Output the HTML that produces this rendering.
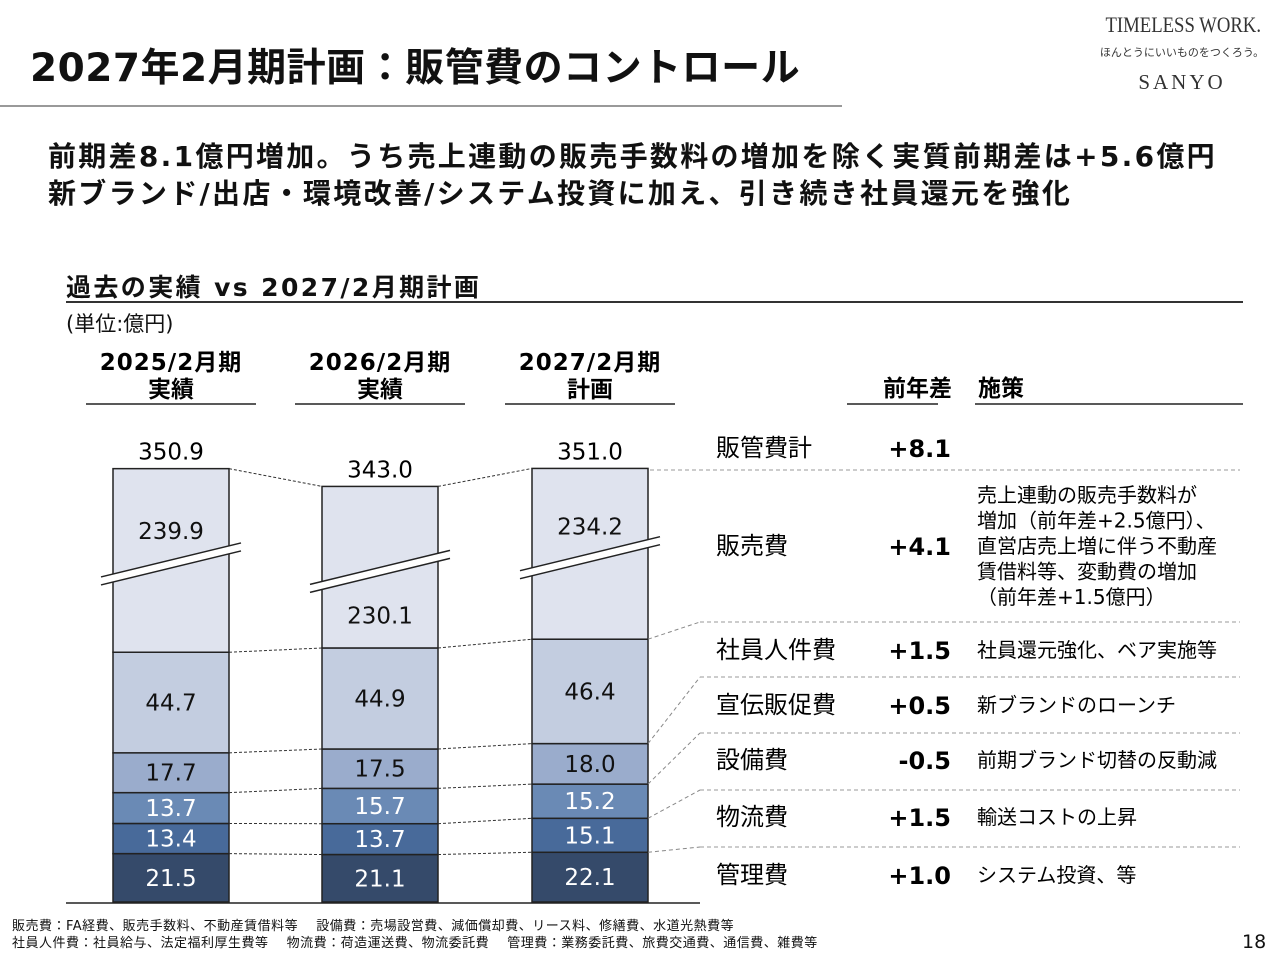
<!DOCTYPE html>
<html><head><meta charset="utf-8">
<style>
body{margin:0;width:1280px;height:960px;background:#fff;overflow:hidden;font-family:"DejaVu Sans","Noto Sans CJK JP",sans-serif;color:#111;position:relative}
.a{position:absolute;white-space:nowrap}
svg text{font-family:"DejaVu Sans","Noto Sans CJK JP",sans-serif}
</style></head><body>
<div class="a" style="left:30px;top:37px;font-size:39px;font-weight:bold;letter-spacing:0.5px">2027年2月期計画：販管費のコントロール</div>
<div class="a" style="left:0;top:105px;width:842px;height:2px;background:#999"></div>
<div class="a" style="left:1092px;top:12px;width:180px;text-align:center;font-family:'Liberation Serif',serif;color:#333">
 <div style="font-size:22px;transform:scaleX(0.85);letter-spacing:0px">TIMELESS WORK.</div>
 <div style="font-size:11px;font-family:'Noto Sans CJK JP',sans-serif;margin-top:6px">ほんとうにいいものをつくろう。</div>
 <div style="font-size:21px;letter-spacing:3px;margin-top:10px">SANYO</div>
</div>
<div class="a" style="left:48px;top:135px;font-size:28px;font-weight:bold;letter-spacing:2.3px">前期差8.1億円増加。うち売上連動の販売手数料の増加を除く実質前期差は+5.6億円</div>
<div class="a" style="left:48px;top:172px;font-size:28px;font-weight:bold;letter-spacing:2.3px">新ブランド/出店・環境改善/システム投資に加え、引き続き社員還元を強化</div>
<div class="a" style="left:66px;top:268px;font-size:25px;font-weight:bold;letter-spacing:2.4px">過去の実績 vs 2027/2月期計画</div>
<div class="a" style="left:66px;top:301px;width:1177px;height:1.5px;background:#333"></div>
<div class="a" style="left:66px;top:308px;font-size:21px">(単位:億円)</div>

<svg class="a" style="left:0;top:0" width="1280" height="960">
<g id="heads"></g><g id="bars"></g><g id="conn"></g><g id="table"></g>
<line x1="66" y1="903" x2="700" y2="903" stroke="#222" stroke-width="1.5"/>
</svg>

<div class="a" style="left:12px;top:915px;font-size:13px;letter-spacing:0.5px">販売費：FA経費、販売手数料、不動産賃借料等　 設備費：売場設営費、減価償却費、リース料、修繕費、水道光熱費等</div>
<div class="a" style="left:12px;top:932px;font-size:13px;letter-spacing:0.5px">社員人件費：社員給与、法定福利厚生費等　 物流費：荷造運送費、物流委託費　 管理費：業務委託費、旅費交通費、通信費、雑費等</div>
<div class="a" style="left:1242px;top:931px;font-size:19px">18</div>

<script>
const periods=["2025/2月期","2026/2月期","2027/2月期"];
const periodTypes=["実績","実績","計画"];
const totals=["350.9","343.0","351.0"];
const kanri=[21.5,21.1,22.1];
const butsuryu=[13.4,13.7,15.1];
const setsubi=[13.7,15.7,15.2];
const senden=[17.7,17.5,18.0];
const jinken=[44.7,44.9,46.4];
const hanbai=[239.9,230.1,234.2];
const rowLabels=["販管費計","販売費","社員人件費","宣伝販促費","設備費","物流費","管理費"];
const rowDiffs=["+8.1","+4.1","+1.5","+0.5","-0.5","+1.5","+1.0"];
const rowNotes=[[],["売上連動の販売手数料が","増加（前年差+2.5億円）、","直営店売上増に伴う不動産","賃借料等、変動費の増加","（前年差+1.5億円）"],["社員還元強化、ベア実施等"],["新ブランドのローンチ"],["前期ブランド切替の反動減"],["輸送コストの上昇"],["システム投資、等"]];

const NS="http://www.w3.org/2000/svg";
function mk(p,t,a){const e=document.createElementNS(NS,t);for(const k in a)e.setAttribute(k,a[k]);p.appendChild(e);return e;}
const base=902,k=2.25,breakOff=158.3,bw=116;
const xs=[113,322,532];
const y=v=>v*k;
const series=[kanri,butsuryu,setsubi,senden,jinken,hanbai];
const names=["kanri","butsuryu","setsubi","senden","jinken","hanbai"];
const fills=["#354a6a","#486a9a","#6a8ab5","#9aaccc","#c3cde0","#dfe3ee"];
const tcol=["#fff","#fff","#fff","#111","#111","#111"];
const bars=document.getElementById('bars'),heads=document.getElementById('heads'),conn=document.getElementById('conn'),tbl=document.getElementById('table');
const bounds=[];
periods.forEach((p,i)=>{
  const cx=xs[i]+bw/2;
  let t=mk(heads,'text',{x:cx,y:370,'text-anchor':'middle','font-size':23,'font-weight':'bold','letter-spacing':1});t.textContent=p;
  
  t=mk(heads,'text',{x:cx,y:397,'text-anchor':'middle','font-size':23,'font-weight':'bold'});t.textContent=periodTypes[i];
  
  const l=mk(heads,'line',{x1:cx-85,x2:cx+85,y1:404,y2:404,stroke:'#222','stroke-width':1.5});
  
  let cur=base;const b=[base];
  series.forEach((s,j)=>{
    const h=j==5?y(s[i]-breakOff):y(s[i]);
    const top=cur-h;
    const r=mk(bars,'rect',{x:xs[i],y:top,width:bw,height:h,fill:fills[j],stroke:'#222','stroke-width':1.5});
    
    const ty=j==5?(i==1?top+h*0.8:top+h*0.34):top+h/2;
    const tx=mk(bars,'text',{x:cx,y:ty+8,'text-anchor':'middle','font-size':23,fill:tcol[j]});tx.textContent=s[i].toFixed(1);
    
    cur=top;b.push(top);
  });
  bounds.push(b);
  const top=b[6],bot=b[5];const by=top+(bot-top)*0.47;
  const g=mk(bars,'g',{});
  mk(g,'polygon',{points:`${xs[i]-12},${by+22} ${xs[i]+bw+12},${by-12} ${xs[i]+bw+12},${by-4} ${xs[i]-12},${by+30}`,fill:'#fff'});
  mk(g,'line',{x1:xs[i]-12,y1:by+22,x2:xs[i]+bw+12,y2:by-12,stroke:'#222','stroke-width':1.5});
  mk(g,'line',{x1:xs[i]-12,y1:by+30,x2:xs[i]+bw+12,y2:by-4,stroke:'#222','stroke-width':1.5});
  const tt=mk(bars,'text',{x:cx,y:top-9,'text-anchor':'middle','font-size':23});tt.textContent=totals[i];
  
});
for(let i=0;i<2;i++)for(let j=1;j<=6;j++){
  const l=mk(conn,'line',{x1:xs[i]+bw,y1:bounds[i][j],x2:xs[i+1],y2:bounds[i+1][j],stroke:'#333','stroke-width':1,'stroke-dasharray':'3,2'});
  
}
const rowY=[448,546,650,705,760,817,875];
const sepY=[470,622,677,733,790,847];
const hd=[["前年差",952,'end'],["施策",978,'start']];
hd.forEach(h=>{const t=mk(tbl,'text',{x:h[1],y:396,'text-anchor':h[2],'font-size':23,'font-weight':'bold'});t.textContent=h[0];
 });
mk(tbl,'line',{x1:847,x2:938,y1:404,y2:404,stroke:'#222','stroke-width':1.5});
mk(tbl,'line',{x1:975,x2:1243,y1:404,y2:404,stroke:'#222','stroke-width':1.5});
sepY.forEach((sy,j)=>{
  const l=mk(tbl,'line',{x1:j==0?650:700,x2:1240,y1:sy,y2:sy,stroke:'#999','stroke-width':1,'stroke-dasharray':'4,3'});
  
  if(j>0){const c=mk(tbl,'line',{x1:xs[2]+bw,y1:bounds[2][6-j],x2:700,y2:sy,stroke:'#888','stroke-width':1,'stroke-dasharray':'4,3'});
  }
});
rowLabels.forEach((r,i)=>{
  let t=mk(tbl,'text',{x:716,y:rowY[i]+8,'font-size':24});t.textContent=r;
  
  t=mk(tbl,'text',{x:951,y:rowY[i]+9,'text-anchor':'end','font-size':24,'font-weight':'bold'});t.textContent=rowDiffs[i];
  
  const n=rowNotes[i];const y0=rowY[i]-(n.length-1)*25.5/2;
  n.forEach((s,m)=>{const q=mk(tbl,'text',{x:977,y:y0+m*25.5+7,'font-size':20});q.textContent=s;
   });
});
</script>
</body></html>
